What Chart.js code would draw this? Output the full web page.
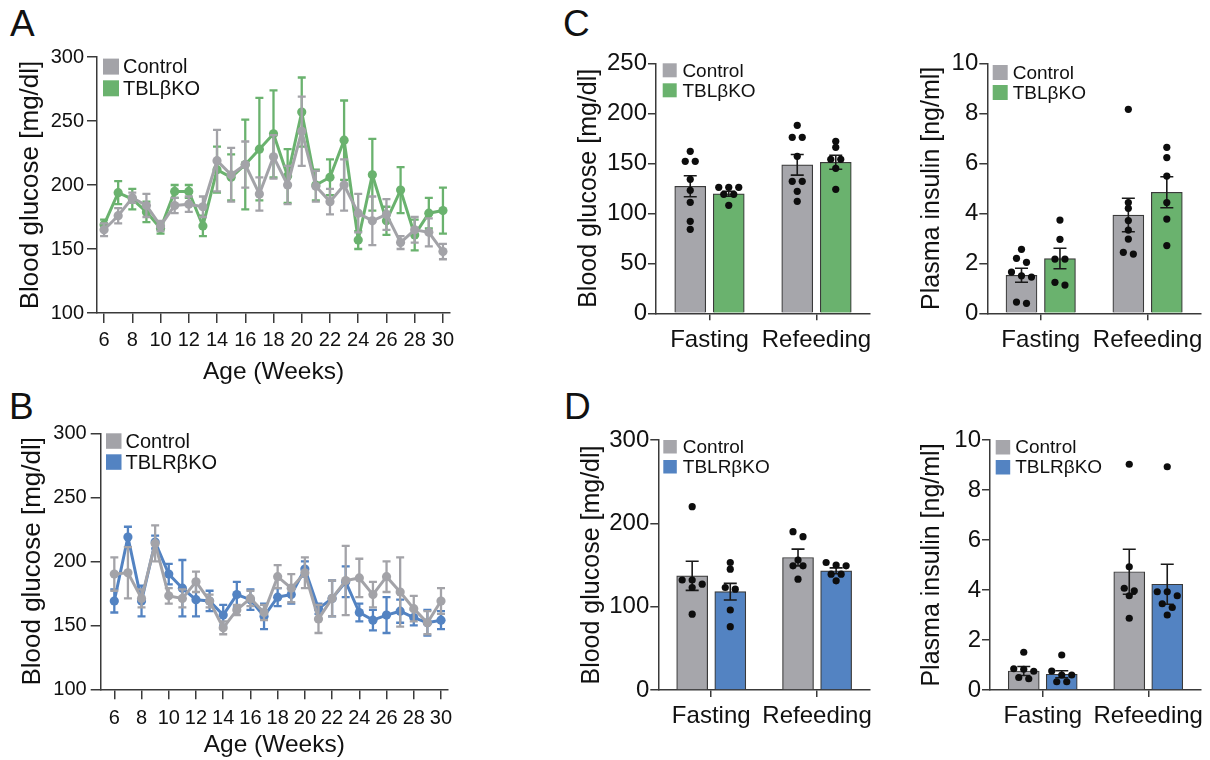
<!DOCTYPE html>
<html><head><meta charset="utf-8">
<script src="https://cdn.jsdelivr.net/npm/chart.js@4.4.0/dist/chart.umd.min.js"></script>
<style>
html,body{margin:0;padding:0;background:#fff;}
body{width:1210px;height:760px;position:relative;overflow:hidden;font-family:"Liberation Sans",Arial,sans-serif;}
canvas{position:absolute;}
.lbl{position:absolute;font-size:37px;color:#111;line-height:1;font-family:"Liberation Sans",Arial,sans-serif;}
</style></head><body>
<div class="lbl" style="left:10px;top:5px">A</div>
<div class="lbl" style="left:9px;top:388px">B</div>
<div class="lbl" style="left:563px;top:5px">C</div>
<div class="lbl" style="left:564px;top:388px">D</div>
<canvas id="cA" width="460" height="350" style="left:0px;top:40px"></canvas>
<canvas id="cB" width="460" height="360" style="left:0px;top:400px"></canvas>
<canvas id="cC1" width="320" height="330" style="left:560px;top:40px"></canvas>
<canvas id="cC2" width="320" height="330" style="left:890px;top:40px"></canvas>
<canvas id="cD1" width="320" height="350" style="left:560px;top:410px"></canvas>
<canvas id="cD2" width="320" height="350" style="left:890px;top:410px"></canvas>
<script>
// ---------- DATA ----------
const weeks = [6,7,8,9,10,11,12,13,14,15,16,17,18,19,20,21,22,23,24,25,26,27,28,29,30];
const weekTicks = [6,8,10,12,14,16,18,20,22,24,26,28,30];

// Panel A (Control vs TBLβKO), mean and SEM
const aCtrl    = [165,176,190,184,168,184,185,183,219,208,216,193,222,200,242,199,187,200,178,172,177,155,165,163,148];
const aCtrlSem = [5,6,4,9,4,6,6,8,24,21,18,13,17,15,27,12,10,20,15,19,12,5,10,11,6];
const aKo      = [169,194,189,179,166,195,195,168,212,206,216,228,240,207,257,200,206,235,157,208,172,196,161,178,180];
const aKoSem   = [4,9,8,8,4,5,5,8,18,18,35,40,34,21,27,12,14,31,7,28,11,18,12,12,18];

// Panel B (Control vs TBLRβKO)
const bCtrl    = [190,191,171,214,173,171,184,169,148,162,171,160,188,179,191,155,171,185,187,174,188,176,163,152,169];
const bCtrlSem = [13,20,7,14,6,7,8,5,5,4,6,6,9,11,12,11,14,27,15,10,12,27,10,9,10];
const bKo      = [169,219,169,215,190,179,170,169,158,174,170,157,172,174,194,163,171,184,160,154,158,161,156,152,154];
const bKoSem   = [9,8,12,5,8,22,13,8,8,10,8,10,7,7,6,4,14,12,7,8,14,9,6,10,7];

const groups = ['Fasting', 'Refeeding'];

// Panel C – blood glucose
const cGluCtrlMean = [127, 148.5];
const cGluCtrlSem  = [10.5, 10.3];
const cGluKoMean   = [119.5, 151];
const cGluKoSem    = [2.5, 7];
const cGluCtrlFasting   = [162,152,152,134,123,111,92,84];
const cGluCtrlRefeeding = [188,176,176,157,132,132,122,112];
const cGluKoFasting     = [126,126,126,119,119,108];
const cGluKoRefeeding   = [172,166,154,154,145,124];

// Panel C – plasma insulin
const cInsCtrlMean = [1.52, 3.93];
const cInsCtrlSem  = [0.28, 0.67];
const cInsKoMean   = [2.19, 4.84];
const cInsKoSem    = [0.41, 0.62];
const cInsCtrlFasting   = [2.56,2.2,2.04,1.65,1.5,1.45,0.45,0.4];
const cInsCtrlRefeeding = [8.16,4.43,4.2,3.71,3.33,2.97,2.44,2.37];
const cInsKoFasting     = [3.73,2.96,2.17,2.17,1.24,1.13];
const cInsKoRefeeding   = [6.64,6.23,5.49,4.43,3.77,2.71];

// Panel D – blood glucose
const dGluCtrlMean = [137, 159];
const dGluCtrlSem  = [17.5, 10];
const dGluKoMean   = [118, 143];
const dGluKoSem    = [10, 3.5];
const dGluCtrlFasting   = [220,132,132,127,123,91];
const dGluCtrlRefeeding = [190,184,156,149,149,133];
const dGluKoFasting     = [153,145,123,121,96,76];
const dGluKoRefeeding   = [153,150,149,139,139,131];

// Panel D – plasma insulin
const dInsCtrlMean = [0.76, 4.73];
const dInsCtrlSem  = [0.18, 0.9];
const dInsKoMean   = [0.63, 4.23];
const dInsKoSem    = [0.14, 0.8];
const dInsCtrlFasting   = [1.51,0.85,0.83,0.75,0.5,0.45];
const dInsCtrlRefeeding = [9.03,4.93,4.07,3.97,3.77,2.87];
const dInsKoFasting     = [1.4,0.76,0.6,0.6,0.33,0.33];
const dInsKoRefeeding   = [8.93,3.93,3.93,3.77,3.45,3.3,3.0];

// ---------- STYLE ----------
const FAMILY = '"Liberation Sans", Arial, Helvetica, sans-serif';
const GREY_LINE = '#a3a3a8';
const GREY_BAR = '#a6a6ab';
const GREEN = '#6ab26e';
const BLUE = '#5383c2';
const AX = '#3a3a3a';
const TXT = '#111';
Chart.defaults.font.family = FAMILY;
Chart.defaults.color = TXT;
Chart.defaults.animation = false;

const errPlugin = {
  id: 'errbars',
  drawErr(chart, args) {
    const ds = chart.data.datasets[args.index];
    const meta = args.meta;
    const ys = chart.scales[meta.yAxisID];
    const ctx = chart.ctx;
    ctx.save();
    ctx.strokeStyle = ds.errColor || ds.borderColor;
    ctx.lineWidth = ds.errWidth;
    ctx.lineCap = 'butt';
    meta.data.forEach((el, i) => {
      const v = ds.data[i];
      const val = (typeof v === 'object') ? v.y : v;
      const e = ds.err[i];
      const x = el.x;
      const yt = ys.getPixelForValue(val + e), yb = ys.getPixelForValue(val - e);
      const c = ds.capHalf;
      ctx.beginPath();
      ctx.moveTo(x, yt); ctx.lineTo(x, yb);
      ctx.moveTo(x - c, yt); ctx.lineTo(x + c, yt);
      ctx.moveTo(x - c, yb); ctx.lineTo(x + c, yb);
      ctx.stroke();
    });
    ctx.restore();
  },
  beforeDatasetDraw(chart, args) {
    const ds = chart.data.datasets[args.index];
    if (ds.err && !ds.errAfter) this.drawErr(chart, args);
  },
  afterDatasetDraw(chart, args) {
    const ds = chart.data.datasets[args.index];
    if (ds.err && ds.errAfter) this.drawErr(chart, args);
  }
};

const boxLegend = {
  id: 'boxLegend',
  afterDraw(chart, args, o) {
    const ctx = chart.ctx, a = chart.chartArea;
    const items = chart.data.datasets.filter(d => !d.isDots);
    ctx.save();
    ctx.font = o.size + 'px ' + FAMILY;
    ctx.textBaseline = 'middle';
    items.forEach((d, i) => {
      const y = a.top + o.dy + i * o.gap;
      const x = a.left + o.dx;
      ctx.fillStyle = d.legendColor || d.backgroundColor;
      ctx.fillRect(x, y, o.box, o.box);
      ctx.fillStyle = TXT;
      ctx.fillText(d.label, x + o.box + o.tg, y + o.box / 2 + 1);
    });
    ctx.restore();
  }
};

function lineChart(id, g, ctrl, ctrlSem, ko, koSem, koLabel, koColor) {
  const mk = (label, vals, sem, color, order) => ({
    label, data: weeks.map((w, i) => ({x: w, y: vals[i]})), err: sem,
    borderColor: color, backgroundColor: color, pointBackgroundColor: color,
    borderWidth: 3, pointRadius: 4.6, pointBorderWidth: 0, pointHoverRadius: 4.6,
    errWidth: 2.3, capHalf: 4, order, tension: 0
  });
  return new Chart(document.getElementById(id), {
    type: 'line',
    data: {datasets: [mk('Control', ctrl, ctrlSem, GREY_LINE, 0), mk(koLabel, ko, koSem, koColor, 1)]},
    options: {
      responsive: false, devicePixelRatio: 1, animation: false, events: [],
      layout: {padding: {top: g.padTop, right: g.padRight, left: 0, bottom: 0}},
      plugins: {legend: {display: false}, tooltip: {enabled: false}, boxLegend: g.legend},
      scales: {
        x: {type: 'linear', min: g.xMin, max: g.xMax,
            afterBuildTicks: s => { s.ticks = weekTicks.map(v => ({value: v})); },
            afterFit: s => { s.height = g.xH; },
            ticks: {font: {size: 20}, padding: g.xPad, color: TXT, maxRotation: 0, autoSkip: false},
            grid: {drawOnChartArea: false, tickLength: 10, color: AX, lineWidth: 1.5},
            border: {color: AX, width: 1.5},
            title: {display: true, text: 'Age (Weeks)', font: {size: 24.5}, color: TXT, padding: {top: 0, bottom: g.xTitlePad}}},
        y: {min: 100, max: 300,
            ticks: {stepSize: 50, font: {size: 20}, padding: g.yPad, color: TXT},
            afterFit: s => { s.width = g.yW; },
            grid: {drawOnChartArea: false, tickLength: 10, color: AX, lineWidth: 1.5},
            border: {color: AX, width: 1.5},
            title: {display: true, text: 'Blood glucose [mg/dl]', font: {size: 26}, color: TXT, padding: {top: g.yTitlePad, bottom: 0}}}
      }
    },
    plugins: [errPlugin, boxLegend]
  });
}

function barChart(id, g, d) {
  const side = 0.18;          // half distance between paired bar centres, in category units
  const bar = (label, mean, sem, color, s) => ({
    type: 'bar', label, data: mean.map((m, c) => ({x: c + s * side, y: m})), err: sem,
    backgroundColor: color, borderColor: AX, borderWidth: 1.2, borderSkipped: 'bottom',
    barThickness: 31, grouped: false, order: 2,
    errAfter: true, errColor: '#1a1a1a', errWidth: 1.6, capHalf: 6.5
  });
  const datasets = [bar('Control', d.ctrlMean, d.ctrlSem, GREY_BAR, -1), bar(d.koLabel, d.koMean, d.koSem, d.koColor, 1)];
  [[d.ctrlDots, -1], [d.koDots, 1]].forEach(([sets, s]) => {
    sets.forEach((vals, c) => {
      const base = c + s * side;
      datasets.push({type: 'scatter', isDots: true, base,
        data: vals.map(v => ({x: base, y: v})), backgroundColor: '#0d0d0d', pointBackgroundColor: '#0d0d0d',
        pointRadius: 3.6, pointBorderWidth: 0, pointHoverRadius: 3.6, order: 0});
    });
  });
  const chart = new Chart(document.getElementById(id), {
    type: 'bar',
    data: {datasets},
    options: {
      responsive: false, devicePixelRatio: 1, animation: false, events: [],
      layout: {padding: {top: g.padTop, right: g.padRight, left: 0, bottom: 0}},
      plugins: {legend: {display: false}, tooltip: {enabled: false}, boxLegend: g.legend},
      scales: {
        x: {type: 'linear', min: -0.5, max: 1.5, offset: false,
            afterBuildTicks: s => { s.ticks = groups.map((n, i) => ({value: i})); },
            afterFit: s => { s.height = g.xH; },
            ticks: {font: {size: 24}, padding: g.xPad, color: TXT, maxRotation: 0, autoSkip: false,
                    callback: v => groups[Math.round(v)]},
            grid: {offset: false, drawOnChartArea: false, tickLength: 7, color: AX, lineWidth: 1.5},
            border: {color: AX, width: 1.5}},
        y: {min: 0, max: d.yMax, afterFit: s => { s.width = g.yW; },
            ticks: {stepSize: d.yStep, font: {size: 24}, padding: 1, color: TXT},
            grid: {drawOnChartArea: false, tickLength: 8, color: AX, lineWidth: 1.5},
            border: {color: AX, width: 1.5},
            title: {display: true, text: d.yTitle, font: {size: 25}, color: TXT, padding: {top: g.yTitlePad, bottom: 0}}}
      }
    },
    plugins: [errPlugin, boxLegend]
  });
  swarm(chart);
  return chart;
}

// spread dots of similar value side by side (beeswarm-like), using the chart's own scales
function swarm(chart) {
  const xs = chart.scales.x, ys = chart.scales.y;
  chart.data.datasets.forEach(ds => {
    if (!ds.isDots) return;
    const cx = xs.getPixelForValue(ds.base);
    const pts = ds.data.map((p, i) => ({i, py: ys.getPixelForValue(p.y)})).sort((a, b) => a.py - b.py);
    const rows = [];
    pts.forEach(p => {
      const r = rows[rows.length - 1];
      if (r && p.py - r[0].py < 5.5) r.push(p); else rows.push([p]);
    });
    rows.forEach(r => r.forEach((p, k) => {
      ds.data[p.i].x = xs.getValueForPixel(cx + (k - (r.length - 1) / 2) * 10);
    }));
  });
  chart.update('none');
}

lineChart('cA', {padTop: 17, padRight: 10, yW: 97, xH: 77, xMin: 5.5, xMax: 30.5, xPad: 5, xTitlePad: 3, yPad: 3, yTitlePad: 15,
  legend: {dx: 6, dy: 1.6, box: 16, gap: 21.7, size: 20, tg: 4}},
  aCtrl, aCtrlSem, aKo, aKoSem, 'TBLβKO', GREEN);

lineChart('cB', {padTop: 33.3, padRight: 12.2, yW: 100.7, xH: 70.7, xMin: 5, xMax: 30.5, xPad: 6.7, xTitlePad: 0, yPad: 4, yTitlePad: 17,
  legend: {dx: 5.3, dy: 0, box: 15.5, gap: 21, size: 20, tg: 4}},
  bCtrl, bCtrlSem, bKo, bKoSem, 'TBLRβKO', BLUE);

barChart('cC1', {padTop: 23.3, padRight: 10, yW: 96, xH: 56.7, xPad: 5.3, yTitlePad: 14,
  legend: {dx: 6.7, dy: 0, box: 14, gap: 20, size: 19, tg: 5.7}},
  {ctrlMean: cGluCtrlMean, ctrlSem: cGluCtrlSem, koMean: cGluKoMean, koSem: cGluKoSem,
   ctrlDots: [cGluCtrlFasting, cGluCtrlRefeeding], koDots: [cGluKoFasting, cGluKoRefeeding],
   koLabel: 'TBLβKO', koColor: GREEN, yMax: 250, yStep: 50, yTitle: 'Blood glucose [mg/dl]'});

barChart('cC2', {padTop: 23.3, padRight: 9, yW: 97.3, xH: 56.7, xPad: 5.3, yTitlePad: 27.5,
  legend: {dx: 5.4, dy: 1.7, box: 15, gap: 20, size: 19, tg: 5}},
  {ctrlMean: cInsCtrlMean, ctrlSem: cInsCtrlSem, koMean: cInsKoMean, koSem: cInsKoSem,
   ctrlDots: [cInsCtrlFasting, cInsCtrlRefeeding], koDots: [cInsKoFasting, cInsKoRefeeding],
   koLabel: 'TBLβKO', koColor: GREEN, yMax: 10, yStep: 2, yTitle: 'Plasma insulin [ng/ml]'});

barChart('cD1', {padTop: 30, padRight: 10, yW: 98.3, xH: 70, xPad: 4.6, yTitlePad: 16.7,
  legend: {dx: 5, dy: 0, box: 13.5, gap: 20, size: 19, tg: 6}},
  {ctrlMean: dGluCtrlMean, ctrlSem: dGluCtrlSem, koMean: dGluKoMean, koSem: dGluKoSem,
   ctrlDots: [dGluCtrlFasting, dGluCtrlRefeeding], koDots: [dGluKoFasting, dGluKoRefeeding],
   koLabel: 'TBLRβKO', koColor: BLUE, yMax: 300, yStep: 100, yTitle: 'Blood glucose [mg/dl]'});

barChart('cD2', {padTop: 30, padRight: 9, yW: 100, xH: 70, xPad: 4.6, yTitlePad: 26.7,
  legend: {dx: 5.7, dy: 0, box: 14.5, gap: 20, size: 19, tg: 5}},
  {ctrlMean: dInsCtrlMean, ctrlSem: dInsCtrlSem, koMean: dInsKoMean, koSem: dInsKoSem,
   ctrlDots: [dInsCtrlFasting, dInsCtrlRefeeding], koDots: [dInsKoFasting, dInsKoRefeeding],
   koLabel: 'TBLRβKO', koColor: BLUE, yMax: 10, yStep: 2, yTitle: 'Plasma insulin [ng/ml]'});
</script>
</body></html>
